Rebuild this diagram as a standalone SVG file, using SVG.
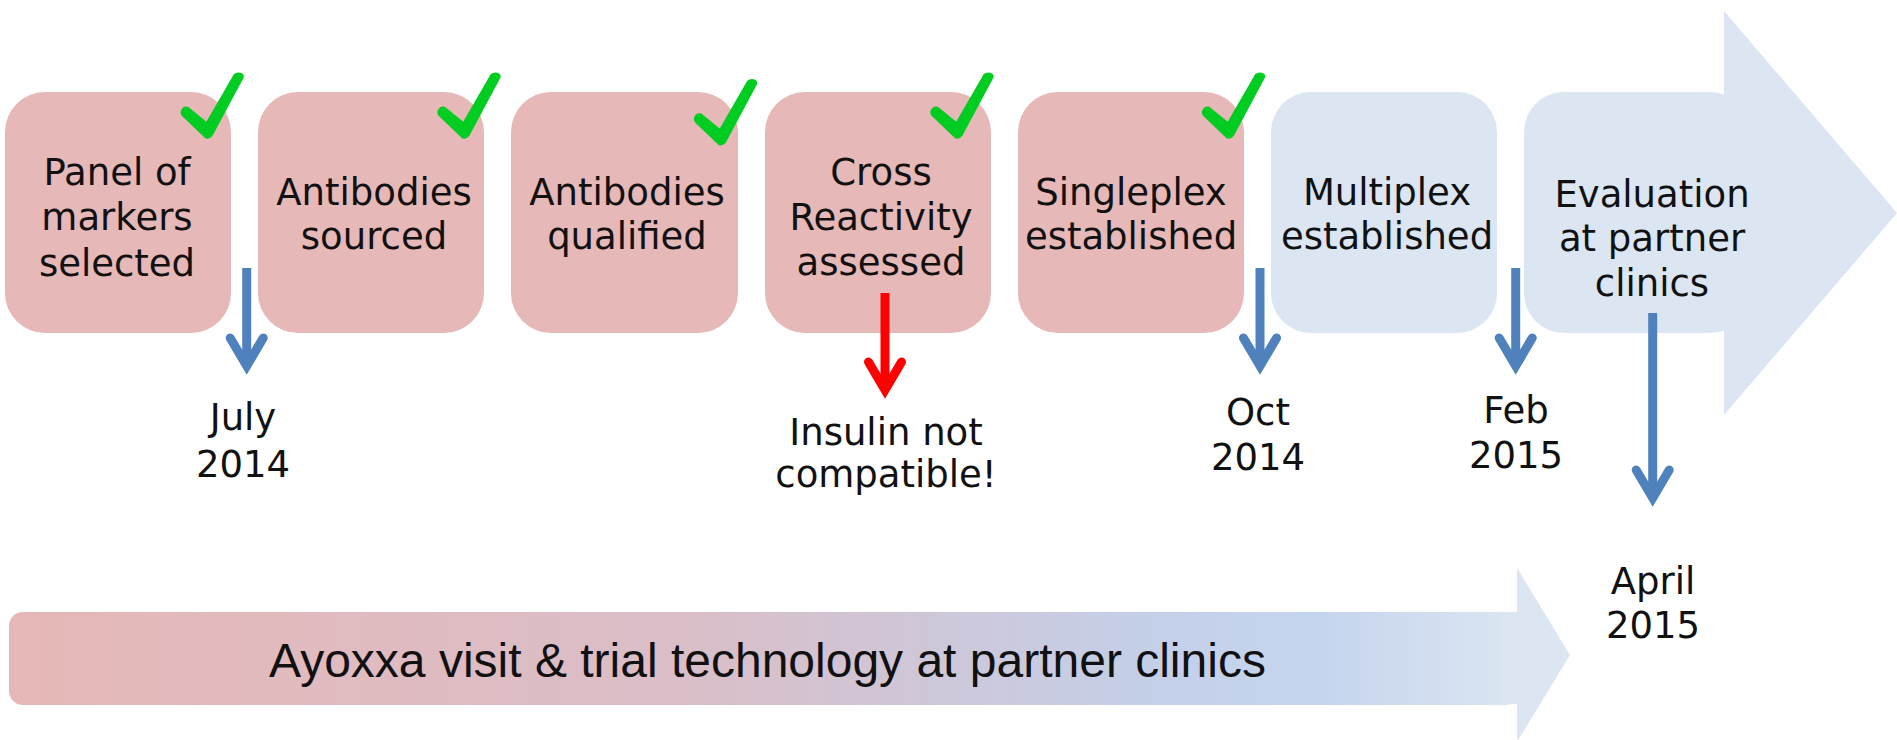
<svg xmlns="http://www.w3.org/2000/svg" width="1897" height="740" viewBox="0 0 1897 740">
  <defs>
    <style>
      .pink { fill: #E6B8B7; }
      .blue { fill: #DCE6F2; }
      .lbl { font-family: "DejaVu Sans", Verdana, sans-serif; font-size: 37px; fill: #111111; text-anchor: middle; }
      .bar { font-family: "Liberation Sans", Arial, sans-serif; font-size: 48px; fill: #111111; }
      .chk { fill: #00CC22; stroke: #00CC22; stroke-width: 2; stroke-linejoin: round; }
      .bshaft { stroke: #4F81BD; stroke-width: 9; fill: none; marker-end: url(#headBlue); }
      .rshaft { stroke: #FF0000; stroke-width: 9; fill: none; marker-end: url(#headRed); }
    </style>
    <marker id="headBlue" markerUnits="userSpaceOnUse" viewBox="-40 -30 60 60" markerWidth="60" markerHeight="60" refX="0" refY="0" orient="auto" overflow="visible">
      <path d="M -28,-16.5 L 0,0 L -28,16.5" fill="none" stroke="#4F81BD" stroke-width="9" stroke-linecap="round" stroke-linejoin="miter" stroke-miterlimit="10"/>
    </marker>
    <marker id="headRed" markerUnits="userSpaceOnUse" viewBox="-40 -30 60 60" markerWidth="60" markerHeight="60" refX="0" refY="0" orient="auto" overflow="visible">
      <path d="M -28,-16.5 L 0,0 L -28,16.5" fill="none" stroke="#FF0000" stroke-width="9" stroke-linecap="round" stroke-linejoin="miter" stroke-miterlimit="10"/>
    </marker>
    <path id="check" class="chk" d="M -24,-18 C -27,-22 -23,-27 -19,-25.5 L 0,-10 L 28,-58.5 C 31,-61 37,-60 36,-56 L 5,2 C 3,5 -1,5 -2,3 Z"/>
    <linearGradient id="barGrad" gradientUnits="userSpaceOnUse" x1="9" y1="0" x2="1520" y2="0">
      <stop offset="0" stop-color="#E6B8B7"/>
      <stop offset="0.45" stop-color="#DABEC8"/>
      <stop offset="0.75" stop-color="#C4CFE8"/>
      <stop offset="0.87" stop-color="#C6D5EE"/>
      <stop offset="1" stop-color="#DCE6F2"/>
    </linearGradient>
  </defs>

  <!-- big background arrow -->
  <g id="timeline-arrow">
    <polygon class="blue" points="1724,11 1897,213 1724,415"/>
  </g>

  <g id="node-panel">
    <rect class="pink" x="5" y="92" width="226" height="241" rx="40" ry="40"/>
    <text class="lbl" x="117" y="185">Panel of</text>
    <text class="lbl" x="117" y="230">markers</text>
    <text class="lbl" x="117" y="276">selected</text>
    <use href="#check" x="206.7" y="133.3"/>
  </g>

  <g id="node-sourced">
    <rect class="pink" x="258" y="92" width="226" height="241" rx="40" ry="40"/>
    <text class="lbl" x="374" y="205">Antibodies</text>
    <text class="lbl" x="374" y="249">sourced</text>
    <use href="#check" x="463.5" y="133.3"/>
  </g>

  <g id="node-qualified">
    <rect class="pink" x="511" y="92" width="227" height="241" rx="40" ry="40"/>
    <text class="lbl" x="627" y="205">Antibodies</text>
    <text class="lbl" x="627" y="249">qualified</text>
    <use href="#check" x="720" y="140"/>
  </g>

  <g id="node-cross">
    <rect class="pink" x="765" y="92" width="226" height="241" rx="40" ry="40"/>
    <text class="lbl" x="881" y="185">Cross</text>
    <text class="lbl" x="881" y="230">Reactivity</text>
    <text class="lbl" x="881" y="275">assessed</text>
    <use href="#check" x="956.5" y="133.3"/>
  </g>

  <g id="node-singleplex">
    <rect class="pink" x="1018" y="92" width="226" height="241" rx="40" ry="40"/>
    <text class="lbl" x="1131" y="205">Singleplex</text>
    <text class="lbl" x="1131" y="249">established</text>
    <use href="#check" x="1228" y="133.3"/>
  </g>

  <g id="node-multiplex">
    <rect class="blue" x="1271" y="92" width="226" height="241" rx="40" ry="40"/>
    <text class="lbl" x="1387" y="205">Multiplex</text>
    <text class="lbl" x="1387" y="249">established</text>
  </g>

  <g id="node-evaluation">
    <rect class="blue" x="1524" y="92" width="226" height="241" rx="40" ry="40"/>
    <text class="lbl" x="1652" y="207">Evaluation</text>
    <text class="lbl" x="1652" y="251">at partner</text>
    <text class="lbl" x="1652" y="296">clinics</text>
  </g>

  <g id="connectors">
    <line class="bshaft" x1="246.7" y1="268" x2="246.7" y2="366"/>
    <line class="rshaft" x1="885" y1="293" x2="885" y2="390"/>
    <line class="bshaft" x1="1260" y1="268" x2="1260" y2="366"/>
    <line class="bshaft" x1="1515.7" y1="268" x2="1515.7" y2="366"/>
    <line class="bshaft" x1="1652.7" y1="313" x2="1652.7" y2="498"/>
  </g>

  <g id="date-july">
    <text class="lbl" x="243" y="430">July</text>
    <text class="lbl" x="243" y="477">2014</text>
  </g>
  <g id="note-insulin">
    <text class="lbl" x="886" y="445">Insulin not</text>
    <text class="lbl" x="886" y="487">compatible!</text>
  </g>
  <g id="date-oct">
    <text class="lbl" x="1258" y="425">Oct</text>
    <text class="lbl" x="1258" y="470">2014</text>
  </g>
  <g id="date-feb">
    <text class="lbl" x="1516" y="423">Feb</text>
    <text class="lbl" x="1516" y="468">2015</text>
  </g>
  <g id="date-april">
    <text class="lbl" x="1653" y="594">April</text>
    <text class="lbl" x="1653" y="638">2015</text>
  </g>

  <g id="bottom-bar">
    <rect x="9" y="612" width="1511" height="93" rx="14" ry="14" fill="url(#barGrad)"/>
    <polygon class="blue" points="1500,612 1517,612 1517,568 1570,655 1517,742 1517,704 1500,704"/>
    <text class="bar" x="269" y="677">Ayoxxa visit &amp; trial technology at partner clinics</text>
  </g>
</svg>
